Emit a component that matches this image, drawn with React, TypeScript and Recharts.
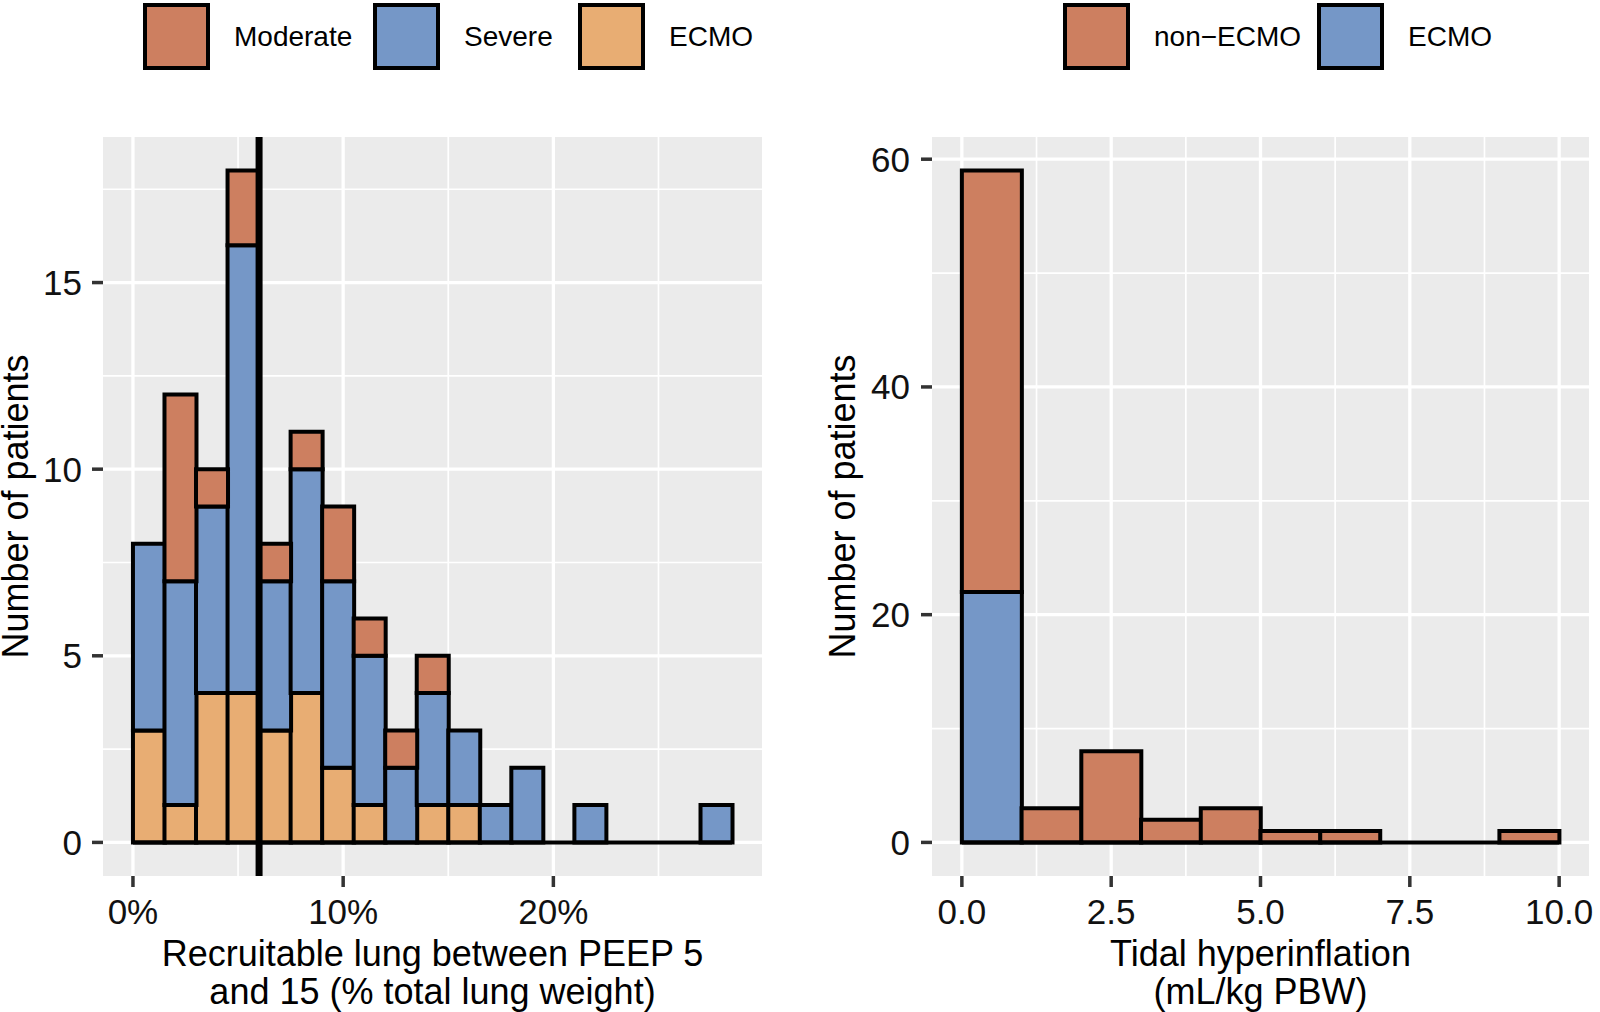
import React from 'react'
import { BarChart, Bar, XAxis, YAxis, CartesianGrid, ReferenceLine, Label } from 'recharts'

// left panel: recruitable lung between PEEP 5 and 15, 1.5% wide bins (bin centres)
const recruitBins = [0.75, 2.25, 3.75, 5.25, 6.75, 8.25, 9.75, 11.25, 12.75, 14.25, 15.75, 17.25, 18.75, 20.25, 21.75, 23.25, 24.75, 26.25, 27.75]
const recruitEcmo = [3, 1, 4, 4, 3, 4, 2, 1, 0, 1, 1, 0, 0, 0, 0, 0, 0, 0, 0]
const recruitSevere = [5, 6, 5, 12, 4, 6, 5, 4, 2, 3, 2, 1, 2, 0, 1, 0, 0, 0, 1]
const recruitModerate = [0, 5, 1, 2, 1, 1, 2, 1, 1, 1, 0, 0, 0, 0, 0, 0, 0, 0, 0]
const recruitEdges = [0, 28.5]
const recruitCutoff = 6
const recruitTicks = [0, 10, 20]
const recruitMinorTicks = [5, 15, 25]
const leftCountTicks = [0, 5, 10, 15]
const leftCountMinor = [2.5, 7.5, 12.5, 17.5]
const leftCountMax = 18

// right panel: tidal hyperinflation, 1 mL/kg bins (bin centres)
const hyperBins = [0.5, 1.5, 2.5, 3.5, 4.5, 5.5, 6.5, 7.5, 8.5, 9.5]
const hyperNonEcmo = [37, 3, 8, 2, 3, 1, 1, 0, 0, 1]
const hyperEcmo = [22, 0, 0, 0, 0, 0, 0, 0, 0, 0]
const hyperEdges = [0, 10]
const hyperTicks = [0, 2.5, 5, 7.5, 10]
const hyperMinorTicks = [1.25, 3.75, 6.25, 8.75]
const rightCountTicks = [0, 20, 40, 60]
const rightCountMinor = [10, 30, 50]
const rightCountMax = 59

const leftSeries = [
  { key: 'moderate', name: 'Moderate', color: '#CD7F60' },
  { key: 'severe', name: 'Severe', color: '#7597C7' },
  { key: 'ecmo', name: 'ECMO', color: '#E8AD73' },
]
const rightSeries = [
  { key: 'nonEcmo', name: 'non\u2212ECMO', color: '#CD7F60' },
  { key: 'ecmo', name: 'ECMO', color: '#7597C7' },
]

const recruitData = recruitBins.map((bin, i) => ({
  bin,
  ecmo: recruitEcmo[i],
  severe: recruitSevere[i],
  moderate: recruitModerate[i],
}))
const hyperData = hyperBins.map((bin, i) => ({
  bin,
  ecmo: hyperEcmo[i],
  nonEcmo: hyperNonEcmo[i],
}))

// ggplot style 5% expansion on continuous scales
const expand = (lo: number, hi: number): [number, number] => {
  const pad = (hi - lo) * 0.05
  return [lo - pad, hi + pad]
}

const FONT = '"Liberation Sans", Arial, Helvetica, sans-serif'
const PANEL_BG = '#EBEBEB'
const tickStyle = { fill: '#111', fontSize: 35 }
const tickLineStyle = { stroke: '#333', strokeWidth: 3.5 }

const yTitle = (dx: number) => (props: any) => {
  const { x, y, height } = props.viewBox
  const cx = x + dx
  const cy = y + height / 2
  return (
    <text x={cx} y={cy} transform={`rotate(-90, ${cx}, ${cy})`} textAnchor="middle" fontSize={36} fill="#000">
      Number of patients
    </text>
  )
}

const xTitle = (lines: string[]) => (props: any) => {
  const { x, y, width } = props.viewBox
  const cx = x + width / 2
  return (
    <text textAnchor="middle" fontSize={36} fill="#000">
      {lines.map((line, i) => (
        <tspan key={i} x={cx} y={y + 90 + i * 38}>
          {line}
        </tspan>
      ))}
    </text>
  )
}

function LegendRow({ items, keyLefts }: { items: { name: string; color: string }[]; keyLefts: number[] }) {
  return (
    <>
      {items.map((s, i) => (
        <div key={s.name} style={{ position: 'absolute', left: keyLefts[i], top: 3, display: 'flex', alignItems: 'center' }}>
          <div style={{ width: 67, height: 67, boxSizing: 'border-box', border: '4px solid #000', background: s.color }} />
          <span style={{ marginLeft: 24, fontSize: 28, color: '#000', whiteSpace: 'nowrap' }}>{s.name}</span>
        </div>
      ))}
    </>
  )
}

export default function App() {
  const recruitX = expand(recruitEdges[0], recruitEdges[1])
  const leftY = expand(0, leftCountMax)
  const hyperX = expand(hyperEdges[0], hyperEdges[1])
  const rightY = expand(0, rightCountMax)

  return (
    <div style={{ position: 'absolute', left: 0, top: 0, width: 1600, height: 1012, background: '#fff', fontFamily: FONT }}>
      <LegendRow items={leftSeries} keyLefts={[143, 373, 578]} />
      <LegendRow items={rightSeries} keyLefts={[1063, 1317]} />

      <div style={{ position: 'absolute', left: 0, top: 0 }}>
        <BarChart width={800} height={1012} data={recruitData} margin={{ top: 137, right: 38, bottom: 0, left: 0 }} barCategoryGap={0} barGap={0}>
          <CartesianGrid fill={PANEL_BG} stroke="#fff" strokeWidth={1.7} verticalValues={recruitMinorTicks} horizontalValues={leftCountMinor} />
          <CartesianGrid stroke="#fff" strokeWidth={3.3} verticalValues={recruitTicks} horizontalValues={leftCountTicks} />
          <XAxis
            dataKey="bin"
            type="number"
            domain={recruitX}
            allowDataOverflow
            ticks={recruitTicks}
            interval={0}
            tickFormatter={(v) => `${v}%`}
            axisLine={false}
            tickLine={tickLineStyle}
            tickSize={11}
            tickMargin={12}
            tick={tickStyle}
            height={136}
          >
            <Label content={xTitle(['Recruitable lung between PEEP 5', 'and 15 (% total lung weight)'])} />
          </XAxis>
          <YAxis
            type="number"
            domain={leftY}
            allowDataOverflow
            ticks={leftCountTicks}
            interval={0}
            axisLine={false}
            tickLine={tickLineStyle}
            tickSize={11}
            tickMargin={10}
            tick={tickStyle}
            width={103}
          >
            <Label content={yTitle(28)} />
          </YAxis>
          {[...leftSeries].reverse().map((s) => (
            <Bar key={s.key} dataKey={s.key} name={s.name} stackId="a" fill={s.color} stroke="#000" strokeWidth={4} isAnimationActive={false} />
          ))}
          <ReferenceLine
            segment={[{ x: recruitEdges[0], y: 0 }, { x: recruitEdges[1], y: 0 }]}
            stroke="#000"
            strokeWidth={4}
          />
          <ReferenceLine x={recruitCutoff} stroke="#000" strokeWidth={7} />
        </BarChart>
      </div>

      <div style={{ position: 'absolute', left: 800, top: 0 }}>
        <BarChart width={800} height={1012} data={hyperData} margin={{ top: 137, right: 11, bottom: 0, left: 0 }} barCategoryGap={0} barGap={0}>
          <CartesianGrid fill={PANEL_BG} stroke="#fff" strokeWidth={1.7} verticalValues={hyperMinorTicks} horizontalValues={rightCountMinor} />
          <CartesianGrid stroke="#fff" strokeWidth={3.3} verticalValues={hyperTicks} horizontalValues={rightCountTicks} />
          <XAxis
            dataKey="bin"
            type="number"
            domain={hyperX}
            allowDataOverflow
            ticks={hyperTicks}
            interval={0}
            tickFormatter={(v) => Number(v).toFixed(1)}
            axisLine={false}
            tickLine={tickLineStyle}
            tickSize={11}
            tickMargin={12}
            tick={tickStyle}
            height={136}
          >
            <Label content={xTitle(['Tidal hyperinflation', '(mL/kg PBW)'])} />
          </XAxis>
          <YAxis
            type="number"
            domain={rightY}
            allowDataOverflow
            ticks={rightCountTicks}
            interval={0}
            axisLine={false}
            tickLine={tickLineStyle}
            tickSize={11}
            tickMargin={11}
            tick={tickStyle}
            width={132}
          >
            <Label content={yTitle(55)} />
          </YAxis>
          {[...rightSeries].reverse().map((s) => (
            <Bar key={s.key} dataKey={s.key} name={s.name} stackId="a" fill={s.color} stroke="#000" strokeWidth={4} isAnimationActive={false} />
          ))}
          <ReferenceLine
            segment={[{ x: hyperEdges[0], y: 0 }, { x: hyperEdges[1], y: 0 }]}
            stroke="#000"
            strokeWidth={4}
          />
        </BarChart>
      </div>
    </div>
  )
}
